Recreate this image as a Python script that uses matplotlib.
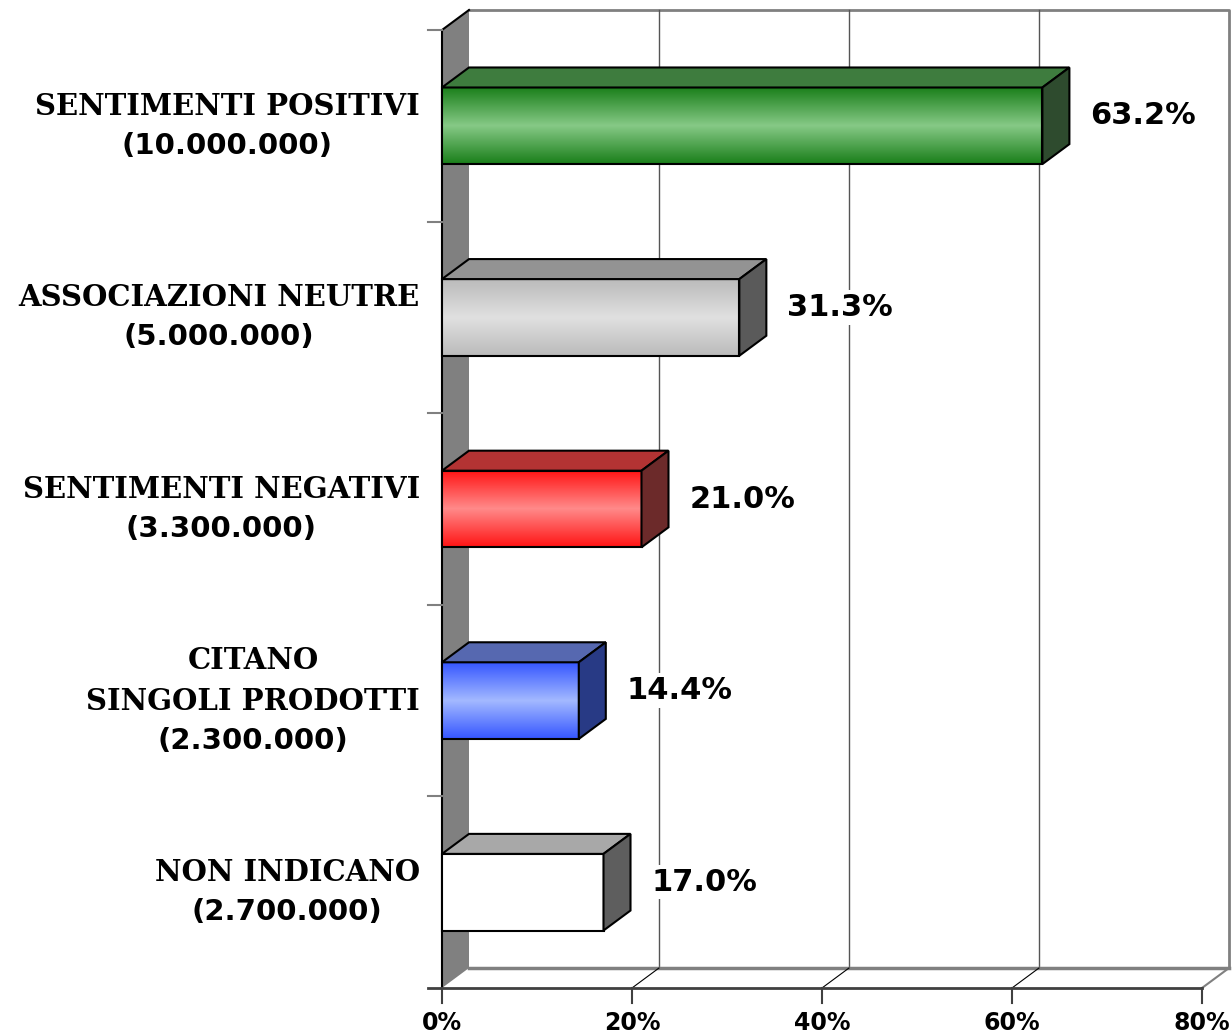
import numpy as np
import matplotlib
matplotlib.use('Agg')
import matplotlib.pyplot as plt
from matplotlib.colors import LinearSegmentedColormap
from matplotlib.patches import Polygon
from matplotlib.offsetbox import TextArea, VPacker, AnnotationBbox

######################################################################
## Data
######################################################################

names = ['SENTIMENTI POSITIVI', 'ASSOCIAZIONI NEUTRE', 'SENTIMENTI NEGATIVI',
         'CITANO\nSINGOLI PRODOTTI', 'NON INDICANO']
counts = ['(10.000.000)', '(5.000.000)', '(3.300.000)', '(2.300.000)', '(2.700.000)']
values = [63.2, 31.3, 21.0, 14.4, 17.0]
x_ticks = [0, 20, 40, 60, 80]

# face colours: front edge, front middle, top, side
front_edge = ['#1a7f1a', '#bbbbbb', '#ff1414', '#3556ff', '#ffffff']
front_mid = ['#86c986', '#e0e0e0', '#ff8a8a', '#a3b9ff', '#ffffff']
top_col = ['#3e7c3e', '#939393', '#b33333', '#5668b0', '#a8a8a8']
side_col = ['#2e4b2e', '#5a5a5a', '#6c2a2a', '#283a85', '#5e5e5e']

######################################################################
## Figure / axes
######################################################################

W, H = 1232, 1033
fig = plt.figure(figsize=(W / 100, H / 100), dpi=100)
ax = fig.add_axes([442 / W, 45 / H, 760 / W, 958 / H])
ax.set_axis_off()

n = len(values)
xmax = x_ticks[-1]
px_x = 760 / xmax          # pixels per unit on x
px_y = 958 / n             # pixels per unit on y
dx = 27 / px_x             # depth offset (right)
dy = 20 / px_y             # depth offset (up)
half = 0.2                 # half bar height

# back wall
ax.add_patch(Polygon([(dx, -dy), (xmax + dx, -dy), (xmax + dx, n - dy), (dx, n - dy)],
                     closed=True, facecolor='white', edgecolor='none', zorder=1, clip_on=False))
ax.plot([dx, xmax + dx, xmax + dx], [-dy, -dy, n - dy], color='#808080', lw=2,
        zorder=2, clip_on=False)
for t in x_ticks[1:-1]:
    ax.plot([t + dx, t + dx], [-dy, n - dy], color='#555555', lw=1, zorder=2, clip_on=False)

# floor
ax.add_patch(Polygon([(0, n), (xmax, n), (xmax + dx, n - dy), (dx, n - dy)],
                     closed=True, facecolor='white', edgecolor='none', zorder=2, clip_on=False))
ax.plot([dx, xmax + dx], [n - dy, n - dy], color='#808080', lw=2.5, zorder=3, clip_on=False)
ax.plot([xmax, xmax + dx], [n, n - dy], color='#808080', lw=1.5, zorder=3, clip_on=False)
for t in x_ticks[1:-1]:
    ax.plot([t, t + dx], [n, n - dy], color='black', lw=0.8, zorder=3, clip_on=False)
ax.plot([-14 / px_x, xmax], [n, n], color='#404040', lw=2, zorder=4, clip_on=False)

# left wall
ax.add_patch(Polygon([(0, 0), (dx, -dy), (dx, n - dy), (0, n)], closed=True,
                     facecolor='#808080', edgecolor='none', zorder=3, clip_on=False))
ax.plot([0, 0, dx], [n, 0, -dy], color='black', lw=1.5, zorder=4, clip_on=False)
for i in range(n):
    ax.plot([-14 / px_x, 0], [i, i], color='#808080', lw=1.5, zorder=4, clip_on=False)

# x ticks and labels
for t in x_ticks:
    ax.plot([t, t], [n, n + 15 / px_y], color='#404040', lw=1.5, zorder=4, clip_on=False)
    ax.text(t, n + 23 / px_y, '{}%'.format(t), ha='center', va='top', fontsize=17,
            fontweight='bold', fontfamily='DejaVu Sans', zorder=5)

# bars
for i, v in enumerate(values):
    y0, y1 = i + 0.5 - half, i + 0.5 + half
    cmap = LinearSegmentedColormap.from_list('g', [front_edge[i], front_mid[i], front_edge[i]])
    grad = np.linspace(0, 1, 200).reshape(-1, 1)
    ax.imshow(grad, extent=[0, v, y1, y0], aspect='auto', cmap=cmap,
              zorder=6, interpolation='bilinear')
    ax.add_patch(Polygon([(0, y0), (v, y0), (v, y1), (0, y1)], closed=True,
                         facecolor='none', edgecolor='black', lw=1.5, zorder=7, clip_on=False))
    ax.add_patch(Polygon([(0, y0), (dx, y0 - dy), (v + dx, y0 - dy), (v, y0)], closed=True,
                         facecolor=top_col[i], edgecolor='black', lw=1.5, zorder=7, clip_on=False))
    ax.add_patch(Polygon([(v, y0), (v + dx, y0 - dy), (v + dx, y1 - dy), (v, y1)], closed=True,
                         facecolor=side_col[i], edgecolor='black', lw=1.5, zorder=7, clip_on=False))
    ax.text(v + dx + 2.2, i + 0.5 - dy / 2, '{:.1f}%'.format(v), ha='left', va='center',
            fontsize=22, fontweight='bold', fontfamily='DejaVu Sans', zorder=8,
            bbox=dict(facecolor='white', edgecolor='none', pad=2))

# category labels
for i, (name, cnt) in enumerate(zip(names, counts)):
    lines = [TextArea(s, textprops=dict(fontfamily='DejaVu Serif', fontweight='bold', fontsize=21))
             for s in name.split('\n')]
    lines.append(TextArea(cnt, textprops=dict(fontfamily='DejaVu Sans', fontweight='bold',
                                              fontsize=21)))
    box = VPacker(children=lines, align='center', pad=0, sep=8)
    ab = AnnotationBbox(box, (0, i + 0.5), xybox=(-16, 0), xycoords='data',
                        boxcoords='offset points', box_alignment=(1, 0.5),
                        frameon=False, pad=0, annotation_clip=False)
    ax.add_artist(ab)

ax.set_xlim(0, xmax)
ax.set_ylim(n, 0)
fig.savefig('out.png', dpi=100, facecolor='white')
